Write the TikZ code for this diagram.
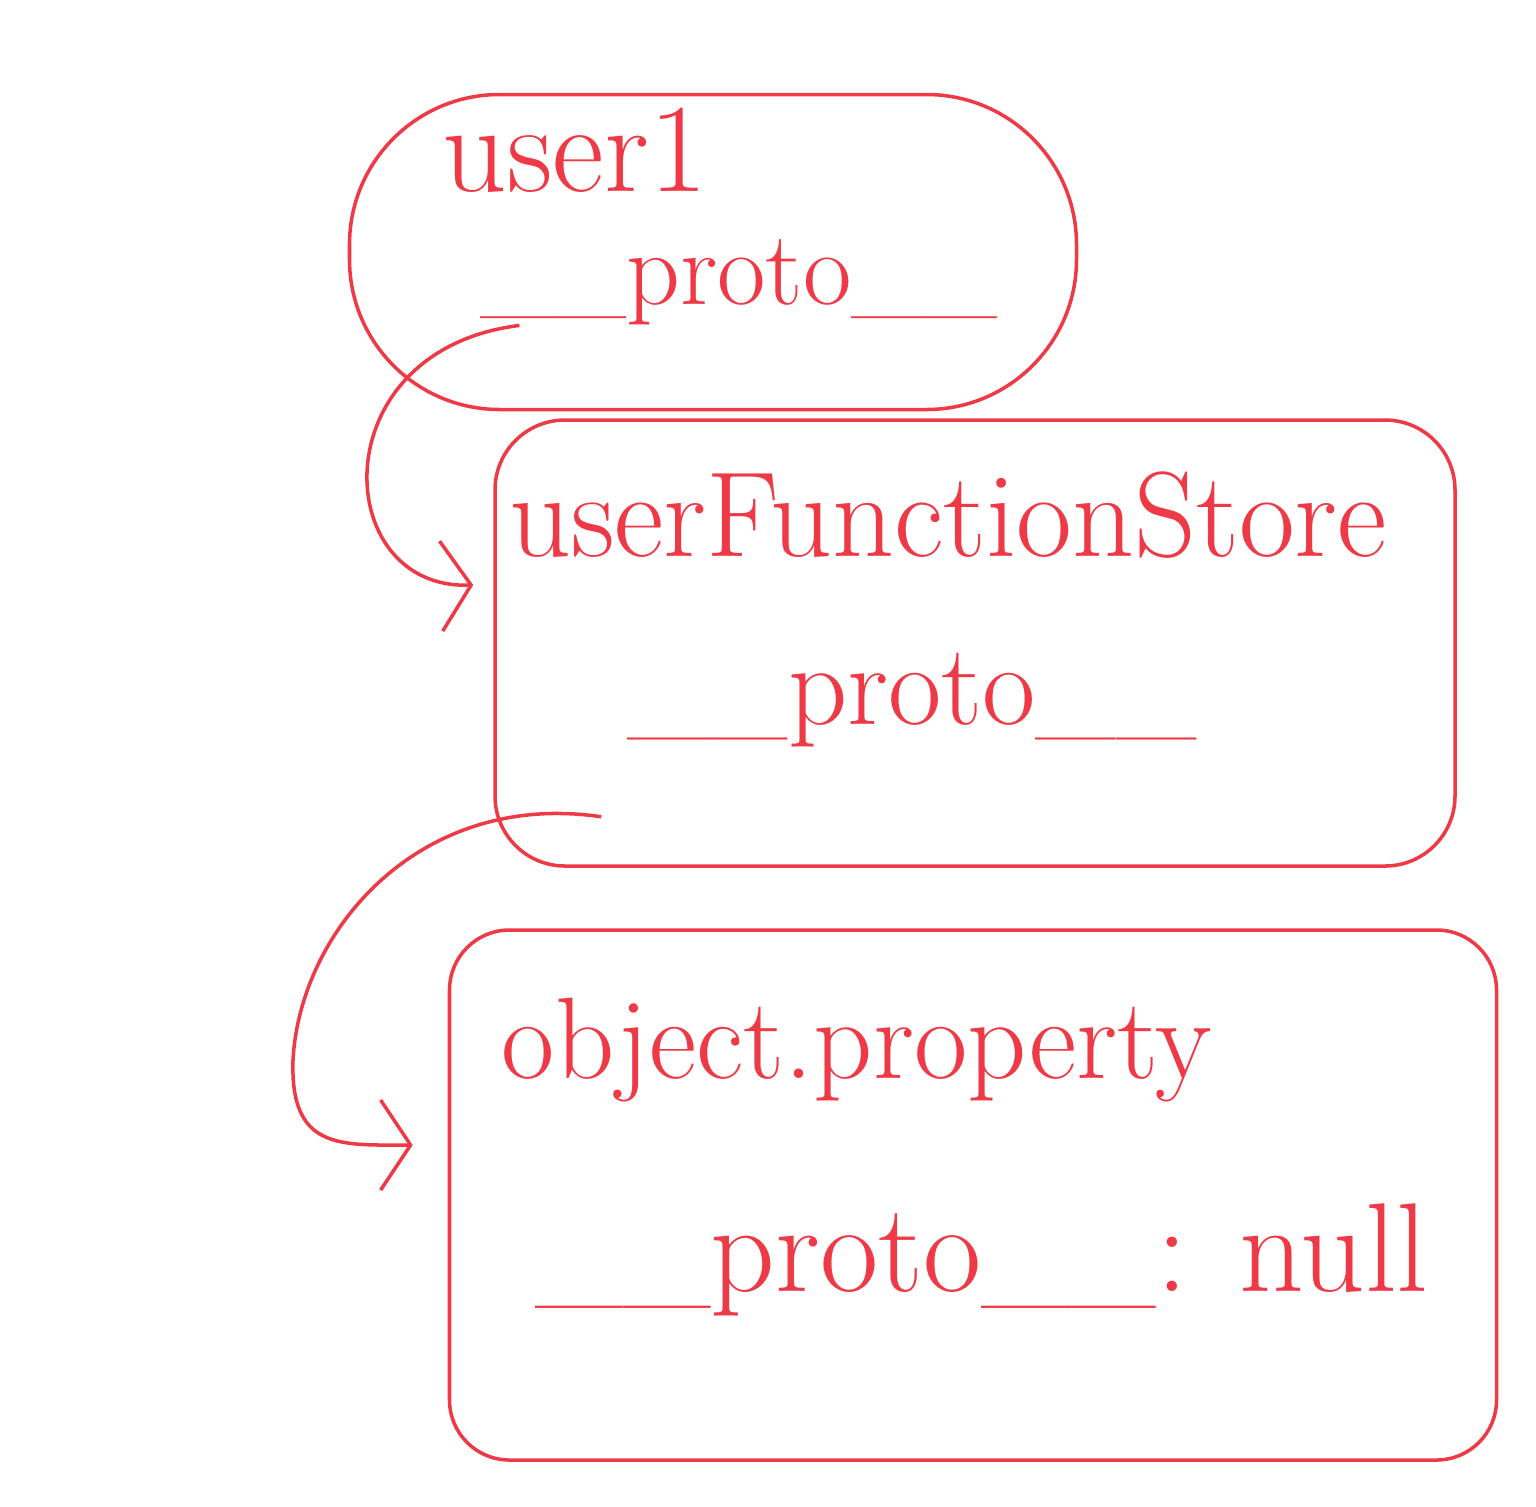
\documentclass[tikz,border=0pt]{standalone}
\usetikzlibrary{arrows.meta}
\definecolor{ink}{RGB}{238,58,70}
\tikzset{
  box/.style={draw=ink,line width=1pt,inner sep=0pt},
  txt/.style={text=ink,inner sep=0pt},
  link/.style={draw=ink,line width=1pt,-{Straight Barb[length=3mm,width=9mm,line width=1pt]}}
}
\begin{document}
\begin{tikzpicture}
        \useasboundingbox (0,0) rectangle (15.36,-15.06);

        \node[box,rounded corners=1.5cm,minimum width=7.27cm,minimum height=3.15cm] (user) at (7.13,-2.52) {};
        \node[box,rounded corners=0.7cm,minimum width=9.6cm,minimum height=4.46cm] (store) at (9.75,-6.43) {};
        \node[box,rounded corners=0.6cm,minimum width=10.47cm,minimum height=5.3cm] (objproto) at (9.73,-11.95) {};

        \node[txt,font=\fontsize{36}{42}\selectfont] (username) at (5.75,-1.5) {user1};
        \node[txt,font=\fontsize{30}{36}\selectfont] (userlink) at (7.39,-2.82) {\_\_proto\_\_};
        \node[txt,font=\fontsize{34.5}{40}\selectfont] (storename) at (9.48,-5.15) {userFunctionStore};
        \node[txt,font=\fontsize{33}{40}\selectfont] (storelink) at (9.12,-7.0) {\_\_proto\_\_};
        \node[txt,font=\fontsize{33}{40}\selectfont] (objname) at (8.57,-10.5) {object.property};
        \node[txt,font=\fontsize{36}{42}\selectfont] (objlink) at (9.82,-12.6) {\_\_proto\_\_: null};

        \draw[link] ([xshift=0.4cm]userlink.south west) .. controls (3.2,-3.5) and (3.3,-5.9) .. ([shift={(-0.2,0.58)}]store.west);
        \draw[link] ([shift={(1.08,0.51)}]store.south west) .. controls (4.2,-7.9) and (3.0,-9.3) .. (2.93,-10.6)
            .. controls (2.9,-11.5) and (3.4,-11.45) .. ([shift={(-0.35,0.5)}]objproto.west);
\end{tikzpicture}
\end{document}
